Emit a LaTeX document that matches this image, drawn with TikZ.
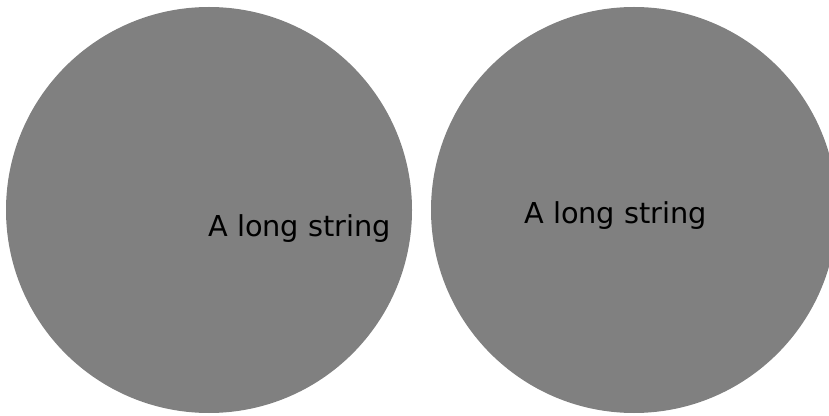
\documentclass[tikz,border=0pt]{standalone}
\usepackage{fontspec}
\setmainfont{DejaVu Sans}
\usepackage{tikz}
\usepackage{xcolor}
\definecolor{disc}{HTML}{808080}

\begin{document}
\begin{tikzpicture}[x=1pt,y=1pt,
    blob/.style={circle,fill=disc,minimum size=406pt,inner sep=0pt},
    lbl/.style={anchor=base west,inner sep=0pt,font=\fontsize{28.8}{32}\selectfont}]
    \useasboundingbox (0,0) rectangle (829,415);
    \begin{scope}
        \clip (0,0) rectangle (829,415);
        \node[blob] (left) at (209,205) {};
        \node[blob] (right) at (634,205) {};
    \end{scope}
    \node[lbl] (lefttext) at (208,178) {A long string};
    \node[lbl] (righttext) at (524,191) {A long string};
\end{tikzpicture}
\end{document}
